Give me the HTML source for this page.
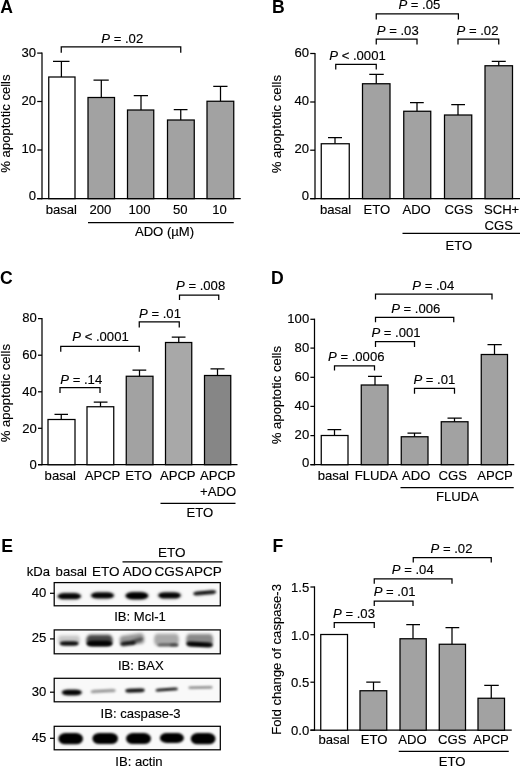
<!DOCTYPE html>
<html lang="en">
<head>
<meta charset="utf-8">
<title>Figure</title>
<style>
html,body{margin:0;padding:0;background:#fff;}
body{width:520px;height:767px;overflow:hidden;}
svg{display:block;}
svg text{font-family:"Liberation Sans",Arial,Helvetica,sans-serif;font-size:13.1px;fill:#000;stroke:#000;stroke-width:0.15px;}
svg text.L{font-size:17.6px;font-weight:bold;stroke-width:0;}
svg path{stroke:#000;}
</style>
</head>
<body>
<svg width="520" height="767" viewBox="0 0 520 767">
<defs>
<filter id="b1" x="-20%" y="-60%" width="140%" height="220%"><feGaussianBlur stdDeviation="0.9"/></filter>
<filter id="b2" x="-20%" y="-60%" width="140%" height="220%"><feGaussianBlur stdDeviation="1.6"/></filter>
<filter id="b3" x="-20%" y="-60%" width="140%" height="220%"><feGaussianBlur stdDeviation="1.1"/></filter>
</defs>
<rect width="520" height="767" fill="#fff"/>
<text x="0.2" y="12.6" class="L">A</text>
<path d="M42 52.48L42 199.28" stroke-width="1.25"/>
<path d="M37.2 53.1L42 53.1" stroke-width="1.25"/>
<text x="36" y="56.6" text-anchor="end">30</text>
<path d="M37.2 101.5L42 101.5" stroke-width="1.25"/>
<text x="36" y="104.7" text-anchor="end">20</text>
<path d="M37.2 150L42 150" stroke-width="1.25"/>
<text x="36" y="152.7" text-anchor="end">10</text>
<path d="M37.2 198.65L42 198.65" stroke-width="1.25"/>
<text x="36" y="200.15" text-anchor="end">0</text>
<path d="M37.2 198.65L240.75 198.65" stroke-width="1.25"/>
<path d="M61.4 77V61.25M53 61.25H69.5" stroke-width="1.25"/>
<rect x="48.75" y="77" width="26.25" height="121.65" fill="#fff" stroke="#000" stroke-width="1.25"/>
<path d="M101.3 97.5V80M93.5 80H108.75" stroke-width="1.25"/>
<rect x="88" y="97.5" width="26.5" height="101.15" fill="#a2a2a2" stroke="#000" stroke-width="1.25"/>
<path d="M141 110V95.5M133.75 95.5H148" stroke-width="1.25"/>
<rect x="127.5" y="110" width="26.25" height="88.65" fill="#a2a2a2" stroke="#000" stroke-width="1.25"/>
<path d="M180.75 120V109.5M173.75 109.5H187.5" stroke-width="1.25"/>
<rect x="167.5" y="120" width="26.75" height="78.65" fill="#a2a2a2" stroke="#000" stroke-width="1.25"/>
<path d="M220.5 101.25V86.25M213.25 86.25H227.5" stroke-width="1.25"/>
<rect x="207" y="101.25" width="26.75" height="97.4" fill="#a2a2a2" stroke="#000" stroke-width="1.25"/>
<path d="M61.25 52.75V46.75H180.75V52.75" fill="none" stroke-width="1.25"/>
<text x="122.25" y="43" text-anchor="middle"><tspan font-style="italic">P</tspan> = .02</text>
<text x="61.3" y="213.75" text-anchor="middle">basal</text>
<text x="100.38" y="213.75" text-anchor="middle">200</text>
<text x="139.5" y="213.75" text-anchor="middle">100</text>
<text x="180.25" y="213.75" text-anchor="middle">50</text>
<text x="219.62" y="213.75" text-anchor="middle">10</text>
<path d="M88 222.5L233.75 222.5" stroke-width="1.25"/>
<text x="164.5" y="236.25" text-anchor="middle">ADO (µM)</text>
<text transform="translate(10.3 123.55) rotate(-90)" text-anchor="middle">% apoptotic cells</text>
<text x="271.9" y="12.7" class="L">B</text>
<path d="M315 52.88L315 199.28" stroke-width="1.25"/>
<path d="M310.2 53.5L315 53.5" stroke-width="1.25"/>
<text x="309" y="57" text-anchor="end">60</text>
<path d="M310.2 102L315 102" stroke-width="1.25"/>
<text x="309" y="105.3" text-anchor="end">40</text>
<path d="M310.2 150.2L315 150.2" stroke-width="1.25"/>
<text x="309" y="153" text-anchor="end">20</text>
<path d="M310.2 198.65L315 198.65" stroke-width="1.25"/>
<text x="309" y="200.15" text-anchor="end">0</text>
<path d="M310.2 198.65L520 198.65" stroke-width="1.25"/>
<path d="M335 143.75V137.5M328 137.5H342" stroke-width="1.25"/>
<rect x="321.25" y="143.75" width="28" height="54.9" fill="#fff" stroke="#000" stroke-width="1.25"/>
<path d="M376.25 83.75V74.25M369.25 74.25H383.75" stroke-width="1.25"/>
<rect x="362.5" y="83.75" width="27.5" height="114.9" fill="#a2a2a2" stroke="#000" stroke-width="1.25"/>
<path d="M417 111.25V102.5M410 102.5H423.75" stroke-width="1.25"/>
<rect x="403.75" y="111.25" width="27" height="87.4" fill="#a2a2a2" stroke="#000" stroke-width="1.25"/>
<path d="M458 115V104.5M451.25 104.5H465" stroke-width="1.25"/>
<rect x="444.5" y="115" width="27.25" height="83.65" fill="#a2a2a2" stroke="#000" stroke-width="1.25"/>
<path d="M498.75 65.75V61.25M491.75 61.25H505.75" stroke-width="1.25"/>
<rect x="485" y="65.75" width="27.5" height="132.9" fill="#a2a2a2" stroke="#000" stroke-width="1.25"/>
<path d="M335.75 69.5V64.25H376.25V69.5" fill="none" stroke-width="1.25"/>
<text x="357.5" y="59.5" text-anchor="middle"><tspan font-style="italic">P</tspan> &lt; .0001</text>
<path d="M376.25 44.5V39H417V44.5" fill="none" stroke-width="1.25"/>
<text x="397.75" y="34.5" text-anchor="middle"><tspan font-style="italic">P</tspan> = .03</text>
<path d="M376.25 19.5V13.8H458.4V19.5" fill="none" stroke-width="1.25"/>
<text x="419.38" y="8.8" text-anchor="middle"><tspan font-style="italic">P</tspan> = .05</text>
<path d="M458 44.5V39H498.75V44.5" fill="none" stroke-width="1.25"/>
<text x="477.5" y="34.5" text-anchor="middle"><tspan font-style="italic">P</tspan> = .02</text>
<text x="335.62" y="214" text-anchor="middle">basal</text>
<text x="376.88" y="214" text-anchor="middle">ETO</text>
<text x="416.62" y="214" text-anchor="middle">ADO</text>
<text x="458.75" y="214" text-anchor="middle">CGS</text>
<text x="501.62" y="214" text-anchor="middle">SCH+</text>
<text x="498.75" y="229.5" text-anchor="middle">CGS</text>
<path d="M402.5 233.25L520 233.25" stroke-width="1.25"/>
<text x="458.75" y="249.5" text-anchor="middle">ETO</text>
<text transform="translate(281.3 124.15) rotate(-90)" text-anchor="middle">% apoptotic cells</text>
<text x="0.1" y="284.2" class="L">C</text>
<path d="M42 317.98L42 465.32" stroke-width="1.25"/>
<path d="M38 318.6L42 318.6" stroke-width="1.25"/>
<text x="36.8" y="322.2" text-anchor="end">80</text>
<path d="M38 355.2L42 355.2" stroke-width="1.25"/>
<text x="36.8" y="359.1" text-anchor="end">60</text>
<path d="M38 391.8L42 391.8" stroke-width="1.25"/>
<text x="36.8" y="395.9" text-anchor="end">40</text>
<path d="M38 428.3L42 428.3" stroke-width="1.25"/>
<text x="36.8" y="432.6" text-anchor="end">20</text>
<path d="M38 464.7L42 464.7" stroke-width="1.25"/>
<text x="36.8" y="469.3" text-anchor="end">0</text>
<path d="M38 464.7L237.5 464.7" stroke-width="1.25"/>
<path d="M61.25 419.5V414.25M54.5 414.25H68" stroke-width="1.25"/>
<rect x="48" y="419.5" width="27" height="45.2" fill="#fff" stroke="#000" stroke-width="1.25"/>
<path d="M100.5 406.75V402M93.75 402H107.5" stroke-width="1.25"/>
<rect x="87" y="406.75" width="26.75" height="57.95" fill="#fff" stroke="#000" stroke-width="1.25"/>
<path d="M139.5 376.25V370M132.5 370H146.25" stroke-width="1.25"/>
<rect x="126.25" y="376.25" width="26.75" height="88.45" fill="#a2a2a2" stroke="#000" stroke-width="1.25"/>
<path d="M178.75 342.5V337M171.75 337H185.5" stroke-width="1.25"/>
<rect x="165.5" y="342.5" width="26.25" height="122.2" fill="#a8a8a8" stroke="#000" stroke-width="1.25"/>
<path d="M217.5 375.5V368.75M210.5 368.75H224.5" stroke-width="1.25"/>
<rect x="204.5" y="375.5" width="26.25" height="89.2" fill="#868686" stroke="#000" stroke-width="1.25"/>
<path d="M60 393V387.5H100V393" fill="none" stroke-width="1.25"/>
<text x="81.25" y="383.75" text-anchor="middle"><tspan font-style="italic">P</tspan> = .14</text>
<path d="M60.75 351.75V346.25H139.25V351.75" fill="none" stroke-width="1.25"/>
<text x="100.5" y="341.25" text-anchor="middle"><tspan font-style="italic">P</tspan> &lt; .0001</text>
<path d="M139.25 327.5V321.75H179.25V327.5" fill="none" stroke-width="1.25"/>
<text x="160" y="317.5" text-anchor="middle"><tspan font-style="italic">P</tspan> = .01</text>
<path d="M179.5 300V295H218.75V300" fill="none" stroke-width="1.25"/>
<text x="200.62" y="290" text-anchor="middle"><tspan font-style="italic">P</tspan> = .008</text>
<text x="60.25" y="480" text-anchor="middle">basal</text>
<text x="102.5" y="480" text-anchor="middle">APCP</text>
<text x="138.5" y="480" text-anchor="middle">ETO</text>
<text x="177.75" y="480" text-anchor="middle">APCP</text>
<text x="217.75" y="480" text-anchor="middle">APCP</text>
<text x="218.12" y="496.25" text-anchor="middle">+ADO</text>
<path d="M160.5 503.25L235.5 503.25" stroke-width="1.25"/>
<text x="199.75" y="517" text-anchor="middle">ETO</text>
<text transform="translate(10 393.2) rotate(-90)" text-anchor="middle">% apoptotic cells</text>
<text x="271.1" y="284.3" class="L">D</text>
<path d="M314.5 318.68L314.5 465.32" stroke-width="1.25"/>
<path d="M310.4 319.3L314.5 319.3" stroke-width="1.25"/>
<text x="309.2" y="323.3" text-anchor="end">100</text>
<path d="M310.4 348.1L314.5 348.1" stroke-width="1.25"/>
<text x="309.2" y="351.9" text-anchor="end">80</text>
<path d="M310.4 377.3L314.5 377.3" stroke-width="1.25"/>
<text x="309.2" y="380.8" text-anchor="end">60</text>
<path d="M310.4 406.4L314.5 406.4" stroke-width="1.25"/>
<text x="309.2" y="409.7" text-anchor="end">40</text>
<path d="M310.4 435.6L314.5 435.6" stroke-width="1.25"/>
<text x="309.2" y="438.6" text-anchor="end">20</text>
<path d="M310.4 464.7L314.5 464.7" stroke-width="1.25"/>
<text x="309.2" y="467.4" text-anchor="end">0</text>
<path d="M310.4 464.7L514.25 464.7" stroke-width="1.25"/>
<path d="M334.5 435.5V429.5M327.5 429.5H341.25" stroke-width="1.25"/>
<rect x="321.25" y="435.5" width="26.75" height="29.2" fill="#fff" stroke="#000" stroke-width="1.25"/>
<path d="M375 385V376.25M368 376.25H382" stroke-width="1.25"/>
<rect x="361.25" y="385" width="26.75" height="79.7" fill="#a2a2a2" stroke="#000" stroke-width="1.25"/>
<path d="M414.5 436.75V433M407.5 433H421.25" stroke-width="1.25"/>
<rect x="401.25" y="436.75" width="26.75" height="27.95" fill="#a2a2a2" stroke="#000" stroke-width="1.25"/>
<path d="M454.5 421.75V418M447.5 418H461.75" stroke-width="1.25"/>
<rect x="441.25" y="421.75" width="26.75" height="42.95" fill="#a2a2a2" stroke="#000" stroke-width="1.25"/>
<path d="M494.5 354.5V344.5M487.5 344.5H501.75" stroke-width="1.25"/>
<rect x="481.25" y="354.5" width="26.25" height="110.2" fill="#a2a2a2" stroke="#000" stroke-width="1.25"/>
<path d="M334.5 370.5V365.75H374.5V370.5" fill="none" stroke-width="1.25"/>
<text x="356.25" y="360.5" text-anchor="middle"><tspan font-style="italic">P</tspan> = .0006</text>
<path d="M375.5 347V341.5H414.5V347" fill="none" stroke-width="1.25"/>
<text x="396" y="336.5" text-anchor="middle"><tspan font-style="italic">P</tspan> = .001</text>
<path d="M375.5 322.25V317.25H453.75V322.25" fill="none" stroke-width="1.25"/>
<text x="415.75" y="312.5" text-anchor="middle"><tspan font-style="italic">P</tspan> = .006</text>
<path d="M375.5 299.5V294H492V299.5" fill="none" stroke-width="1.25"/>
<text x="433.25" y="289.5" text-anchor="middle"><tspan font-style="italic">P</tspan> = .04</text>
<path d="M414.5 393.75V388.25H454.5V393.75" fill="none" stroke-width="1.25"/>
<text x="434.38" y="384.25" text-anchor="middle"><tspan font-style="italic">P</tspan> = .01</text>
<text x="333.38" y="480" text-anchor="middle">basal</text>
<text x="376.25" y="480" text-anchor="middle">FLUDA</text>
<text x="416.25" y="480" text-anchor="middle">ADO</text>
<text x="452.75" y="480" text-anchor="middle">CGS</text>
<text x="495" y="480" text-anchor="middle">APCP</text>
<path d="M400.5 487.5L513.75 487.5" stroke-width="1.25"/>
<text x="457.4" y="500.7" text-anchor="middle">FLUDA</text>
<text transform="translate(281.3 395.05) rotate(-90)" text-anchor="middle">% apoptotic cells</text>
<text x="272.6" y="551.5" class="L">F</text>
<path d="M314.5 586.38L314.5 730.83" stroke-width="1.25"/>
<path d="M310.4 587L314.5 587" stroke-width="1.25"/>
<text x="309.2" y="591.8" text-anchor="end">1.5</text>
<path d="M310.4 634.7L314.5 634.7" stroke-width="1.25"/>
<text x="309.2" y="639.5" text-anchor="end">1.0</text>
<path d="M310.4 682.2L314.5 682.2" stroke-width="1.25"/>
<text x="309.2" y="687" text-anchor="end">0.5</text>
<path d="M310.4 730.2L314.5 730.2" stroke-width="1.25"/>
<text x="309.2" y="734.9" text-anchor="end">0.0</text>
<path d="M310.4 730.2L511.75 730.2" stroke-width="1.25"/>
<rect x="320.75" y="634.5" width="26.75" height="95.7" fill="#fff" stroke="#000" stroke-width="1.25"/>
<path d="M373.5 690.75V682M366.25 682H380.5" stroke-width="1.25"/>
<rect x="360" y="690.75" width="26.75" height="39.45" fill="#a2a2a2" stroke="#000" stroke-width="1.25"/>
<path d="M413 638.75V624.5M406.25 624.5H420" stroke-width="1.25"/>
<rect x="400" y="638.75" width="26.25" height="91.45" fill="#a2a2a2" stroke="#000" stroke-width="1.25"/>
<path d="M452 644.25V627.5M445.5 627.5H459.25" stroke-width="1.25"/>
<rect x="439.25" y="644.25" width="26.25" height="85.95" fill="#a2a2a2" stroke="#000" stroke-width="1.25"/>
<path d="M491.25 698.25V685.25M484.25 685.25H498.75" stroke-width="1.25"/>
<rect x="478" y="698.25" width="26.5" height="31.95" fill="#a2a2a2" stroke="#000" stroke-width="1.25"/>
<path d="M334.25 628V622.5H374.25V628" fill="none" stroke-width="1.25"/>
<text x="354" y="618.25" text-anchor="middle"><tspan font-style="italic">P</tspan> = .03</text>
<path d="M374.25 606V601H413V606" fill="none" stroke-width="1.25"/>
<text x="394.62" y="595.5" text-anchor="middle"><tspan font-style="italic">P</tspan> = .01</text>
<path d="M374.25 583.75V578.75H452V583.75" fill="none" stroke-width="1.25"/>
<text x="412.75" y="573.75" text-anchor="middle"><tspan font-style="italic">P</tspan> = .04</text>
<path d="M413.25 562.5V557.5H491.25V562.5" fill="none" stroke-width="1.25"/>
<text x="451.5" y="553.25" text-anchor="middle"><tspan font-style="italic">P</tspan> = .02</text>
<text x="334.12" y="744" text-anchor="middle">basal</text>
<text x="374" y="744" text-anchor="middle">ETO</text>
<text x="412.5" y="744" text-anchor="middle">ADO</text>
<text x="452.25" y="744" text-anchor="middle">CGS</text>
<text x="491" y="744" text-anchor="middle">APCP</text>
<path d="M398.75 751.25L508.75 751.25" stroke-width="1.25"/>
<text x="452.12" y="765.75" text-anchor="middle">ETO</text>
<text transform="translate(280.75 659.35) rotate(-90)" text-anchor="middle">Fold change of caspase-3</text>
<text x="1.2" y="551.5" class="L">E</text>
<text x="171.88" y="556.6" text-anchor="middle" style="font-size:13.5px">ETO</text>
<path d="M122.5 561.8L222.5 561.8" stroke-width="1.25"/>
<text x="38.38" y="575.6" text-anchor="middle">kDa</text>
<text x="71.25" y="575.6" text-anchor="middle">basal</text>
<text x="105.88" y="575.6" text-anchor="middle" style="font-size:13.5px">ETO</text>
<text x="137.45" y="575.6" text-anchor="middle" style="font-size:13.5px">ADO</text>
<text x="169.15" y="575.6" text-anchor="middle" style="font-size:13.5px">CGS</text>
<text x="203.35" y="575.6" text-anchor="middle" style="font-size:13.5px">APCP</text>
<g id="bands">
<rect x="54.2" y="582.6" width="166.1" height="23.2" fill="#f9f9f9"/>
<rect x="54.2" y="629.9" width="166.1" height="23.9" fill="#f9f9f9"/>
<rect x="54.2" y="678.3" width="166.1" height="23.5" fill="#f9f9f9"/>
<rect x="54.2" y="726.3" width="166.1" height="23.5" fill="#f9f9f9"/>
<rect x="56.8" y="592.2" width="25" height="8" rx="8.8" ry="4" fill="#000" fill-opacity="0.25" filter="url(#b2)"/>
<rect x="57.8" y="593.3" width="23" height="5.8" rx="6.38" ry="2.9" fill="#000" fill-opacity="0.97" filter="url(#b1)"/>
<rect x="90" y="591.4" width="25" height="8" rx="8.8" ry="4" fill="#000" fill-opacity="0.25" filter="url(#b2)"/>
<rect x="91.25" y="592.6" width="22.5" height="5.6" rx="6.16" ry="2.8" fill="#000" fill-opacity="0.97" filter="url(#b1)"/>
<rect x="124.4" y="591.3" width="25" height="9" rx="9.9" ry="4.5" fill="#000" fill-opacity="0.25" filter="url(#b2)"/>
<rect x="125.65" y="592.3" width="22.5" height="7" rx="7.7" ry="3.5" fill="#000" fill-opacity="1" filter="url(#b1)"/>
<rect x="157" y="591.4" width="25" height="8" rx="8.8" ry="4" fill="#000" fill-opacity="0.25" filter="url(#b2)"/>
<rect x="158.5" y="592.5" width="22" height="5.8" rx="6.38" ry="2.9" fill="#000" fill-opacity="0.97" filter="url(#b1)"/>
<rect x="192.7" y="590.3" width="24" height="5" rx="5.5" ry="2.5" fill="#000" fill-opacity="0.2" filter="url(#b2)" transform="rotate(-5 204.7 592.8)"/>
<rect x="193.45" y="591" width="22.5" height="3.6" rx="3.96" ry="1.8" fill="#000" fill-opacity="0.92" filter="url(#b1)" transform="rotate(-5 204.7 592.8)"/>
<rect x="58" y="635.5" width="22" height="9" rx="3" ry="4.5" fill="#000" fill-opacity="0.2" filter="url(#b2)"/>
<rect x="59.95" y="641.3" width="18.5" height="4.4" rx="4.84" ry="2.2" fill="#000" fill-opacity="0.92" filter="url(#b1)"/>
<rect x="86.25" y="634.8" width="26.5" height="11" rx="4" ry="5.5" fill="#000" fill-opacity="0.72" filter="url(#b2)"/>
<rect x="86.5" y="640.85" width="26" height="5.5" rx="6.05" ry="2.75" fill="#000" fill-opacity="0.97" filter="url(#b1)"/>
<rect x="119.5" y="634.55" width="25" height="10.5" rx="3" ry="5.25" fill="#000" fill-opacity="0.4" filter="url(#b2)" transform="rotate(-8 132 639.8)"/>
<rect x="120.5" y="641.3" width="15" height="4" rx="4.4" ry="2" fill="#000" fill-opacity="0.85" filter="url(#b1)" transform="rotate(-6 128 643.3)"/>
<rect x="131" y="638.5" width="12" height="4" rx="4.4" ry="2" fill="#000" fill-opacity="0.45" filter="url(#b1)" transform="rotate(-20 137 640.5)"/>
<rect x="154" y="633.8" width="25" height="12" rx="3" ry="6" fill="#000" fill-opacity="0.32" filter="url(#b2)"/>
<rect x="157.5" y="643.4" width="21" height="3" rx="3.3" ry="1.5" fill="#000" fill-opacity="0.5" filter="url(#b1)"/>
<rect x="170" y="643.4" width="8" height="3" rx="3.3" ry="1.5" fill="#000" fill-opacity="0.35" filter="url(#b1)"/>
<rect x="186.1" y="634.05" width="27" height="11.5" rx="3" ry="5.75" fill="#000" fill-opacity="0.45" filter="url(#b2)"/>
<rect x="186.35" y="642.1" width="26.5" height="4.8" rx="5.28" ry="2.4" fill="#000" fill-opacity="0.97" filter="url(#b1)" transform="rotate(3 199.6 644.5)"/>
<rect x="60.8" y="689" width="22" height="7" rx="7.7" ry="3.5" fill="#000" fill-opacity="0.2" filter="url(#b2)"/>
<rect x="62.05" y="689.8" width="19.5" height="5.4" rx="5.94" ry="2.7" fill="#000" fill-opacity="0.97" filter="url(#b1)"/>
<rect x="90.7" y="689.4" width="25" height="3" rx="3.3" ry="1.5" fill="#000" fill-opacity="0.42" filter="url(#b1)" transform="rotate(-3 103.2 690.9)"/>
<rect x="125.25" y="688.6" width="19.5" height="3.8" rx="4.18" ry="1.9" fill="#000" fill-opacity="0.92" filter="url(#b1)" transform="rotate(-2 135 690.5)"/>
<rect x="155.45" y="687.9" width="22.5" height="3.2" rx="3.52" ry="1.6" fill="#000" fill-opacity="0.85" filter="url(#b1)" transform="rotate(-4 166.7 689.5)"/>
<rect x="188.25" y="686.3" width="24.5" height="2.4" rx="2.64" ry="1.2" fill="#000" fill-opacity="0.45" filter="url(#b1)" transform="rotate(-1 200.5 687.5)"/>
<rect x="58.4" y="733.1" width="24.6" height="11.2" rx="6.8" ry="5.6" fill="#000" fill-opacity="1" filter="url(#b3)"/>
<rect x="92.4" y="733" width="25.6" height="11" rx="6.8" ry="5.5" fill="#000" fill-opacity="1" filter="url(#b3)"/>
<rect x="126" y="733.1" width="25" height="11" rx="6.8" ry="5.5" fill="#000" fill-opacity="1" filter="url(#b3)"/>
<rect x="159.9" y="733" width="24" height="10" rx="6.8" ry="5" fill="#000" fill-opacity="1" filter="url(#b3)"/>
<rect x="190.7" y="733.1" width="24.8" height="11.2" rx="6.8" ry="5.6" fill="#000" fill-opacity="1" filter="url(#b3)"/>
</g>
<rect x="54.2" y="582.6" width="166.1" height="23.2" fill="none" stroke="#000" stroke-width="1.25"/>
<path d="M50 593.3L54.2 593.3" stroke-width="1.25"/>
<text x="38.95" y="596.8" text-anchor="middle">40</text>
<rect x="54.2" y="629.9" width="166.1" height="23.9" fill="none" stroke="#000" stroke-width="1.25"/>
<path d="M50 638.9L54.2 638.9" stroke-width="1.25"/>
<text x="38.95" y="642.4" text-anchor="middle">25</text>
<rect x="54.2" y="678.3" width="166.1" height="23.5" fill="none" stroke="#000" stroke-width="1.25"/>
<path d="M50 692.2L54.2 692.2" stroke-width="1.25"/>
<text x="38.95" y="695.7" text-anchor="middle">30</text>
<rect x="54.2" y="726.3" width="166.1" height="23.5" fill="none" stroke="#000" stroke-width="1.25"/>
<path d="M50 738.3L54.2 738.3" stroke-width="1.25"/>
<text x="38.95" y="741.8" text-anchor="middle">45</text>
<text x="140" y="621.25" text-anchor="middle">IB: Mcl-1</text>
<text x="140.88" y="669.5" text-anchor="middle">IB: BAX</text>
<text x="140.62" y="717.5" text-anchor="middle">IB: caspase-3</text>
<text x="139" y="765.75" text-anchor="middle">IB: actin</text>
</svg>
</body>
</html>
